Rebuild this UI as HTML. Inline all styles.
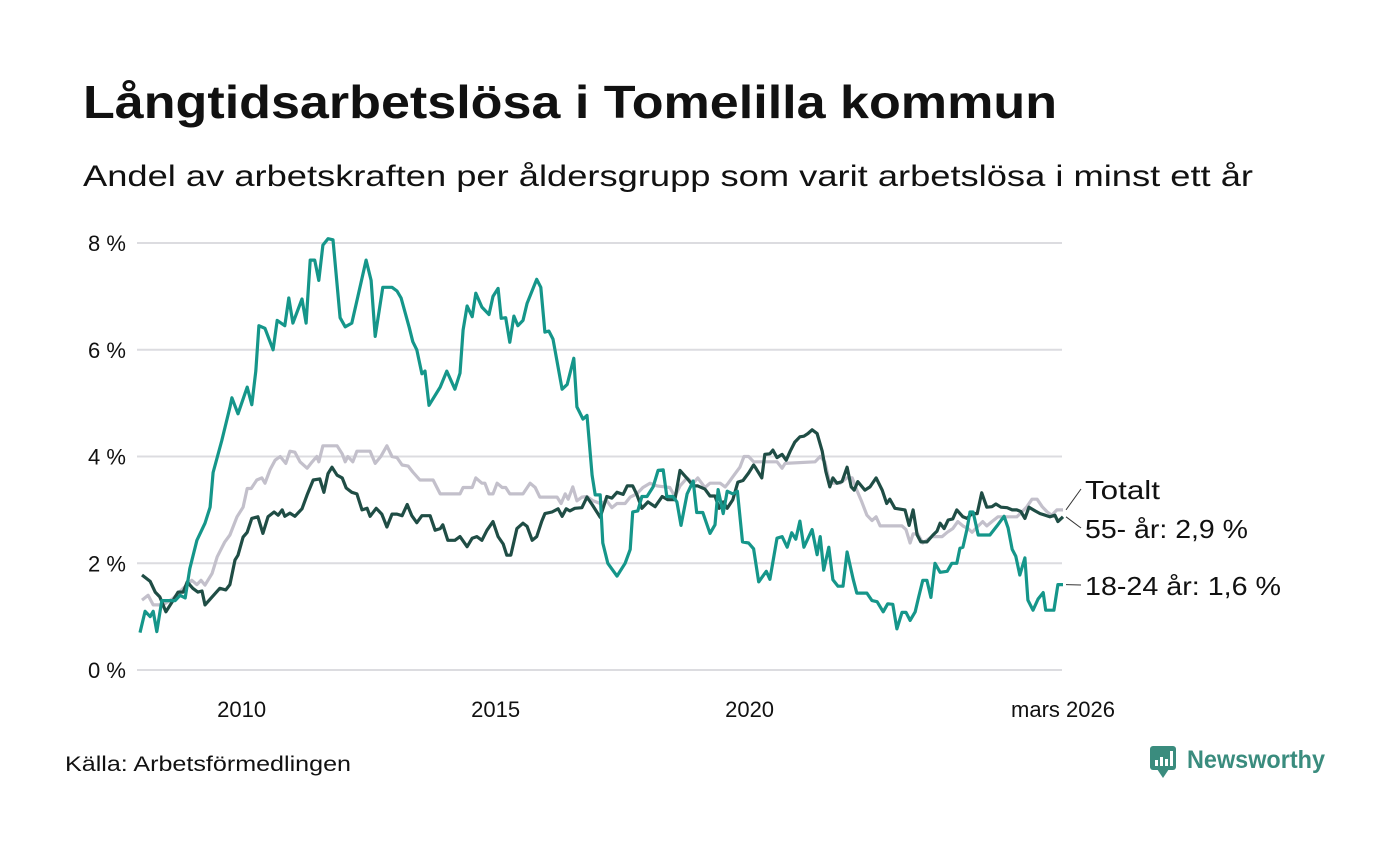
<!DOCTYPE html>
<html><head><meta charset="utf-8">
<style>
body{margin:0;background:#fff;width:1400px;height:840px;overflow:hidden;font-family:"Liberation Sans",sans-serif;}
svg text{font-family:"Liberation Sans",sans-serif;}
</style></head>
<body>
<svg id="chart" width="1400" height="840" xmlns="http://www.w3.org/2000/svg">
<text x="83" y="118" font-size="46" font-weight="bold" fill="#111" textLength="974" lengthAdjust="spacingAndGlyphs">Långtidsarbetslösa i Tomelilla kommun</text>
<text x="83" y="186" font-size="30" fill="#111" textLength="1170" lengthAdjust="spacingAndGlyphs">Andel av arbetskraften per åldersgrupp som varit arbetslösa i minst ett år</text>
<g id="grid"></g>
<g id="lines"></g>
<g id="labels"></g>
<text x="65" y="771" font-size="21" fill="#111" textLength="286" lengthAdjust="spacingAndGlyphs">Källa: Arbetsförmedlingen</text>
<g>
<rect x="1150" y="746" width="26" height="24" rx="3" fill="#3a8c7e"/>
<polygon points="1157,769 1169,769 1163,778" fill="#3a8c7e"/>
<rect x="1155" y="760" width="3" height="6" fill="#fff"/><rect x="1160" y="757" width="3" height="9" fill="#fff"/><rect x="1165" y="759" width="3" height="7" fill="#fff"/><rect x="1170" y="751" width="3" height="15" fill="#fff"/>
<text x="1187" y="768" font-size="25" font-weight="bold" fill="#3a8c7e" textLength="138" lengthAdjust="spacingAndGlyphs">Newsworthy</text>
</g>
</svg>
<script>
const yTicks=[0,2,4,6,8];
const yTickLabels=["0 %","2 %","4 %","6 %","8 %"];
const xTicks=[2010,2015,2020,2026.17];
const xTickLabels=["2010","2015","2020","mars 2026"];
const youngT=[2008.00,2008.10,2008.20,2008.26,2008.33,2008.43,2008.69,2008.79,2008.89,2008.98,2009.12,2009.28,2009.38,2009.44,2009.61,2009.77,2009.81,2009.93,2010.11,2010.20,2010.28,2010.34,2010.46,2010.62,2010.70,2010.85,2010.93,2011.01,2011.19,2011.27,2011.35,2011.44,2011.52,2011.60,2011.70,2011.80,2011.94,2012.04,2012.17,2012.29,2012.45,2012.55,2012.63,2012.78,2012.96,2013.06,2013.14,2013.30,2013.37,2013.45,2013.55,2013.61,2013.69,2013.91,2014.04,2014.20,2014.30,2014.36,2014.44,2014.54,2014.61,2014.73,2014.87,2014.95,2015.05,2015.11,2015.20,2015.28,2015.36,2015.44,2015.54,2015.62,2015.81,2015.89,2015.97,2016.05,2016.13,2016.31,2016.41,2016.54,2016.60,2016.72,2016.80,2016.90,2016.96,2017.06,2017.11,2017.21,2017.39,2017.55,2017.65,2017.70,2017.80,2017.88,2017.98,2018.10,2018.20,2018.30,2018.37,2018.49,2018.57,2018.65,2018.77,2018.89,2018.96,2019.08,2019.22,2019.32,2019.38,2019.48,2019.56,2019.67,2019.76,2019.86,2019.98,2020.08,2020.18,2020.33,2020.40,2020.54,2020.64,2020.74,2020.83,2020.91,2020.99,2021.07,2021.23,2021.33,2021.39,2021.46,2021.56,2021.64,2021.74,2021.84,2021.92,2022.04,2022.11,2022.31,2022.41,2022.51,2022.63,2022.72,2022.82,2022.90,2023.00,2023.08,2023.16,2023.26,2023.33,2023.41,2023.49,2023.57,2023.65,2023.75,2023.89,2023.98,2024.08,2024.14,2024.20,2024.28,2024.34,2024.40,2024.50,2024.59,2024.73,2024.87,2025.01,2025.09,2025.17,2025.24,2025.32,2025.42,2025.48,2025.58,2025.68,2025.78,2025.83,2025.99,2026.07,2026.17];
const youngV=[0.7,1.1,1.0,1.1,0.72,1.3,1.3,1.4,1.35,1.9,2.43,2.75,3.05,3.7,4.3,4.92,5.1,4.8,5.3,4.97,5.6,6.45,6.4,6.0,6.55,6.45,6.97,6.5,6.95,6.5,7.68,7.68,7.3,7.96,8.08,8.06,6.6,6.43,6.5,7.0,7.68,7.3,6.25,7.17,7.17,7.1,6.97,6.42,6.15,6.0,5.55,5.6,4.96,5.3,5.6,5.26,5.56,6.37,6.82,6.62,7.06,6.8,6.66,7.0,7.15,6.59,6.6,6.14,6.63,6.45,6.55,6.87,7.32,7.17,6.33,6.35,6.2,5.26,5.35,5.84,4.93,4.7,4.77,3.65,3.28,3.28,2.38,2.0,1.76,2.0,2.26,2.96,2.98,3.25,3.25,3.43,3.74,3.75,3.25,3.25,3.15,2.71,3.3,3.54,2.95,2.95,2.56,2.72,3.38,2.93,3.35,3.3,3.35,2.4,2.38,2.27,1.65,1.85,1.7,2.47,2.5,2.3,2.57,2.45,2.79,2.3,2.63,2.16,2.5,1.87,2.3,1.69,1.57,1.57,2.21,1.7,1.44,1.44,1.3,1.28,1.09,1.24,1.23,0.77,1.08,1.08,0.93,1.09,1.37,1.68,1.68,1.36,2.0,1.83,1.85,2.0,2.0,2.28,2.3,2.64,2.96,2.96,2.53,2.53,2.53,2.7,2.88,2.66,2.26,2.13,1.78,2.1,1.31,1.12,1.33,1.45,1.12,1.12,1.6,1.6];
const oldT=[2008.04,2008.20,2008.30,2008.39,2008.51,2008.63,2008.75,2008.85,2008.93,2009.04,2009.14,2009.22,2009.28,2009.42,2009.57,2009.69,2009.77,2009.87,2009.93,2010.03,2010.11,2010.20,2010.32,2010.42,2010.52,2010.64,2010.72,2010.80,2010.85,2010.95,2011.05,2011.19,2011.29,2011.41,2011.54,2011.62,2011.70,2011.78,2011.88,2011.98,2012.06,2012.17,2012.27,2012.37,2012.47,2012.53,2012.65,2012.76,2012.86,2012.96,2013.06,2013.16,2013.26,2013.35,2013.45,2013.55,2013.71,2013.81,2013.91,2013.96,2014.06,2014.20,2014.30,2014.44,2014.54,2014.63,2014.73,2014.83,2014.95,2015.05,2015.15,2015.22,2015.30,2015.42,2015.54,2015.62,2015.72,2015.81,2015.91,2015.97,2016.11,2016.23,2016.31,2016.39,2016.46,2016.56,2016.70,2016.80,2016.90,2017.06,2017.19,2017.29,2017.39,2017.51,2017.59,2017.70,2017.78,2017.88,2018.00,2018.14,2018.28,2018.39,2018.53,2018.63,2018.77,2018.89,2018.98,2019.12,2019.22,2019.32,2019.40,2019.48,2019.56,2019.67,2019.77,2019.87,2019.98,2020.08,2020.11,2020.24,2020.30,2020.40,2020.46,2020.54,2020.64,2020.72,2020.80,2020.89,2020.99,2021.07,2021.15,2021.23,2021.33,2021.43,2021.50,2021.58,2021.64,2021.72,2021.82,2021.92,2022.00,2022.06,2022.13,2022.27,2022.37,2022.49,2022.61,2022.70,2022.76,2022.86,2023.06,2023.14,2023.22,2023.30,2023.37,2023.49,2023.61,2023.69,2023.75,2023.83,2023.91,2024.00,2024.08,2024.20,2024.28,2024.38,2024.48,2024.57,2024.67,2024.77,2024.85,2024.95,2025.07,2025.17,2025.26,2025.34,2025.42,2025.50,2025.62,2025.72,2025.82,2025.91,2026.01,2026.07,2026.17];
const oldV=[1.78,1.66,1.46,1.37,1.09,1.27,1.46,1.46,1.65,1.53,1.46,1.48,1.22,1.37,1.53,1.5,1.6,2.06,2.15,2.49,2.58,2.84,2.87,2.56,2.87,2.96,2.9,3.0,2.88,2.94,2.88,3.02,3.28,3.56,3.58,3.33,3.68,3.8,3.65,3.6,3.41,3.33,3.3,3.0,3.03,2.88,3.03,2.92,2.68,2.92,2.92,2.89,3.1,2.89,2.76,2.89,2.89,2.62,2.65,2.72,2.43,2.43,2.5,2.31,2.47,2.5,2.43,2.62,2.78,2.5,2.36,2.15,2.15,2.65,2.75,2.69,2.43,2.5,2.79,2.93,2.96,3.02,2.88,3.02,2.98,3.03,3.04,3.24,3.1,2.86,3.25,3.22,3.33,3.29,3.45,3.45,3.29,3.03,3.15,3.06,3.25,3.19,3.19,3.74,3.59,3.45,3.45,3.39,3.26,3.26,3.03,3.15,3.03,3.19,3.52,3.55,3.69,3.84,3.8,3.6,4.04,4.05,4.12,3.98,4.04,3.93,4.1,4.27,4.37,4.38,4.43,4.5,4.43,4.1,3.72,3.43,3.6,3.5,3.53,3.8,3.43,3.37,3.53,3.37,3.43,3.6,3.37,3.12,3.2,3.03,3.0,2.71,3.0,2.53,2.4,2.4,2.53,2.6,2.75,2.65,2.81,2.83,3.0,2.87,2.84,2.93,2.93,3.32,3.05,3.06,3.11,3.05,3.04,3.0,3.0,2.97,2.84,3.05,2.98,2.93,2.9,2.87,2.9,2.78,2.87];
const totT=[2008.04,2008.16,2008.26,2008.45,2008.65,2008.85,2009.02,2009.12,2009.20,2009.28,2009.42,2009.52,2009.67,2009.77,2009.91,2010.03,2010.11,2010.19,2010.30,2010.40,2010.46,2010.56,2010.66,2010.76,2010.87,2010.95,2011.05,2011.15,2011.29,2011.39,2011.48,2011.52,2011.60,2011.88,2011.98,2012.04,2012.09,2012.19,2012.27,2012.53,2012.63,2012.74,2012.86,2012.96,2013.06,2013.16,2013.28,2013.37,2013.51,2013.77,2013.91,2014.30,2014.36,2014.54,2014.61,2014.73,2014.79,2014.87,2014.95,2015.03,2015.13,2015.20,2015.28,2015.54,2015.68,2015.78,2015.87,2016.21,2016.29,2016.37,2016.43,2016.52,2016.60,2016.70,2016.80,2016.92,2017.06,2017.19,2017.29,2017.39,2017.55,2017.65,2017.78,2017.90,2018.04,2018.18,2018.43,2018.53,2018.63,2018.77,2018.89,2018.98,2019.12,2019.22,2019.42,2019.52,2019.58,2019.67,2019.81,2019.89,2019.98,2020.08,2020.18,2020.54,2020.64,2020.70,2021.29,2021.39,2021.48,2021.58,2021.78,2021.92,2022.02,2022.11,2022.21,2022.31,2022.41,2022.49,2022.57,2023.00,2023.08,2023.16,2023.22,2023.31,2023.41,2023.59,2023.79,2023.89,2024.00,2024.10,2024.20,2024.30,2024.38,2024.48,2024.59,2024.67,2024.77,2024.89,2025.26,2025.36,2025.46,2025.56,2025.66,2025.76,2025.86,2025.95,2026.05,2026.17];
const totV=[1.31,1.4,1.22,1.22,1.34,1.53,1.68,1.6,1.68,1.59,1.81,2.12,2.4,2.53,2.87,3.05,3.4,3.4,3.56,3.6,3.5,3.75,3.93,4.0,3.87,4.1,4.08,3.9,3.78,3.9,4.0,3.9,4.2,4.2,4.05,3.9,4.0,3.9,4.1,4.1,3.87,4.0,4.2,4.0,3.98,3.84,3.82,3.71,3.56,3.56,3.3,3.3,3.42,3.42,3.6,3.5,3.5,3.3,3.3,3.5,3.42,3.42,3.3,3.3,3.5,3.42,3.24,3.24,3.12,3.3,3.2,3.43,3.17,3.24,3.25,3.17,3.12,3.17,3.04,3.12,3.12,3.24,3.3,3.42,3.5,3.45,3.42,3.25,3.45,3.6,3.5,3.6,3.42,3.5,3.5,3.43,3.5,3.62,3.8,4.0,4.0,3.9,3.9,3.9,3.78,3.87,3.9,4.0,3.9,3.5,3.5,3.6,3.6,3.37,3.15,2.9,2.8,2.87,2.7,2.7,2.63,2.38,2.55,2.55,2.38,2.5,2.5,2.58,2.65,2.78,2.7,2.65,2.58,2.68,2.78,2.7,2.78,2.87,2.87,2.96,3.06,3.2,3.2,3.06,2.96,2.9,3.0,3.0];

const NS="http://www.w3.org/2000/svg";
const X0=140,X1=1063,T0=2008.0,T1=2026.17,Y0=670,Y8=243;
function xScale(t){return X0+(t-T0)/(T1-T0)*(X1-X0);}
function yScale(v){return Y0+(Y8-Y0)*v/8;}
function mk(tag,attrs,parent){const e=document.createElementNS(NS,tag);for(const k in attrs)e.setAttribute(k,attrs[k]);parent.appendChild(e);return e;}
const grid=document.getElementById('grid');
yTicks.forEach((v,i)=>{
  const l=mk('line',{x1:137,x2:1062,y1:yScale(v),y2:yScale(v),stroke:'#dcdce0','stroke-width':2},grid);
  
  
  const t=mk('text',{x:88,y:yScale(v)+8,'font-size':22,fill:'#111'},grid);
  t.textContent=yTickLabels[i];
  
  
});
xTicks.forEach((v,i)=>{
  const t=mk('text',{x:xScale(v),y:717,'font-size':22,fill:'#111','text-anchor':'middle'},grid);
  t.textContent=xTickLabels[i];
  
  
});
const lines=document.getElementById('lines');
function drawSeries(T,V,color,name){
  const d=T.map((t,i)=>(i?'L':'M')+xScale(t).toFixed(1)+','+yScale(V[i]).toFixed(1)).join(' ');
  const p=mk('path',{d:d,fill:'none',stroke:color,'stroke-width':3.2,'stroke-linejoin':'round'},lines);
  
  
}
drawSeries(totT,totV,'#c3c0cb','line-totalt');
drawSeries(oldT,oldV,'#1f4d45','line-55-ar');
drawSeries(youngT,youngV,'#15968a','line-18-24-ar');
const lab=document.getElementById('labels');
const ex=xScale(T1);
function label(txt,y,ly,w,name){
  const t=mk('text',{x:1085,y:y,'font-size':26,fill:'#111',textLength:w,lengthAdjust:'spacingAndGlyphs'},lab);
  t.textContent=txt;
  
  
  mk('line',{x1:ex+3,y1:ly,x2:1081,y2:y-10,stroke:'#333','stroke-width':1},lab);
}
label('Totalt',499,yScale(totV[totV.length-1]),75,'label-totalt');
label('55- år: 2,9 %',538,yScale(oldV[oldV.length-1]),163,'label-55-ar');
label('18-24 år: 1,6 %',595,yScale(youngV[youngV.length-1]),196,'label-18-24-ar');
</script>
</body></html>
